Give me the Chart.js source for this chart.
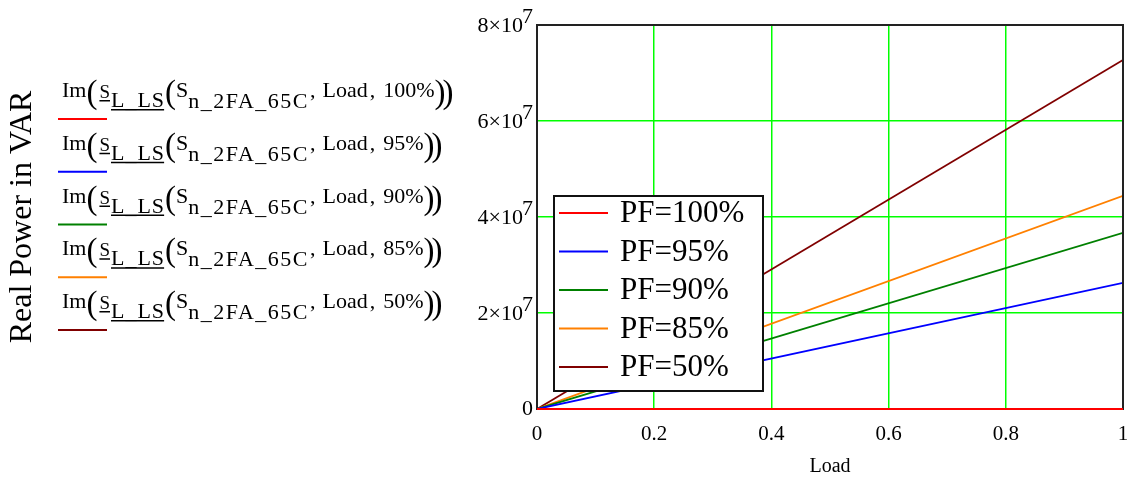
<!DOCTYPE html>
<html>
<head>
<meta charset="utf-8">
<title>Reactive power vs load</title>
<script src="https://cdn.jsdelivr.net/npm/chart.js@4.4.1/dist/chart.umd.min.js"></script>
<style>
  html, body { margin: 0; padding: 0; background: #fff; }
  #wrap { position: relative; width: 1134px; height: 479px; }
</style>
</head>
<body>
<div id="wrap"><canvas id="pf-chart" width="1134" height="479"></canvas></div>
<script>
// load fraction (x) and reactive power per power factor (y, VAR)
const loads = [0, 1];
const q100 = [0, 0];
const q95 = [0, 2.63e7];
const q90 = [0, 3.67e7];
const q85 = [0, 4.44e7];
const q50 = [0, 7.27e7];

const pfLabels = ['PF=100%', 'PF=95%', 'PF=90%', 'PF=85%', 'PF=50%'];
const pfArgs = ['100%', '95%', '90%', '85%', '50%'];
const lineColors = ['#ff0000', '#0000ff', '#008000', '#ff8000', '#800000'];

const xTickLabels = ['0', '0.2', '0.4', '0.6', '0.8', '1'];
const yTickMant = ['0', '2×10', '4×10', '6×10', '8×10'];
const yTickExp = ['', '7', '7', '7', '7'];

const SERIF = '"Liberation Serif", "Times New Roman", serif';

const seriesList = [q100, q95, q90, q85, q50];
const datasets = seriesList.map((vals, i) => ({
  label: pfLabels[i],
  data: loads.map((x, j) => ({ x: x, y: vals[j] })),
  borderColor: lineColors[i],
  borderWidth: 1.8,
  pointRadius: 0,
  fill: false,
}));

// writes a run of text pieces left to right (for subscripts / big parens)
function drawRuns(ctx, x, base, runs) {
  for (const r of runs) {
    ctx.font = r.size + 'px ' + SERIF;
    ctx.letterSpacing = (r.ls || 0) + 'px';
    x += r.pre || 0;
    const w = ctx.measureText(r.t).width;
    const dy = r.dy || 0;
    ctx.fillText(r.t, x, base + dy);
    if (r.u) ctx.fillRect(x, base + dy + 2, w - (r.ls || 0), 1.5);
    x += w;
  }
  ctx.letterSpacing = '0px';
}

const extras = {
  id: 'extras',
  afterDatasetsDraw(chart) {
    const ctx = chart.ctx;
    const a = chart.chartArea;
    ctx.save();

    // legend box inside the plot, lower left
    const bx = a.left + 17, by = a.bottom - 213, bw = 209, bh = 195;
    ctx.fillStyle = '#fff';
    ctx.fillRect(bx, by, bw, bh);
    ctx.strokeStyle = '#111';
    ctx.lineWidth = 2;
    ctx.strokeRect(bx, by, bw, bh);
    ctx.font = '31px ' + SERIF;
    ctx.textBaseline = 'middle';
    chart.data.datasets.forEach((ds, i) => {
      const y = by + 17 + i * 38.5;
      ctx.strokeStyle = ds.borderColor;
      ctx.lineWidth = 1.8;
      ctx.beginPath();
      ctx.moveTo(bx + 5, y);
      ctx.lineTo(bx + 54, y);
      ctx.stroke();
      ctx.fillStyle = '#000';
      ctx.fillText(ds.label, bx + 66, y + 1);
    });

    // frame round the plot area
    ctx.strokeStyle = '#222';
    ctx.lineWidth = 2;
    ctx.strokeRect(a.left, a.top, a.right - a.left, a.bottom - a.top);
    // the zero line sits on top of the frame
    ctx.strokeStyle = lineColors[0];
    ctx.lineWidth = 2;
    ctx.beginPath();
    ctx.moveTo(a.left, chart.scales.y.getPixelForValue(0));
    ctx.lineTo(a.right, chart.scales.y.getPixelForValue(0));
    ctx.stroke();
    ctx.restore();
  },
  afterDraw(chart) {
    const ctx = chart.ctx;
    const ys = chart.scales.y;
    ctx.save();
    ctx.fillStyle = '#000';
    ctx.textBaseline = 'middle';

    // y tick labels with raised exponent
    ys.ticks.forEach((t, i) => {
      const py = ys.getPixelForValue(t.value);
      ctx.font = '22px ' + SERIF;
      const right = ys.right - 4;
      if (yTickExp[i]) {
        ctx.textAlign = 'left';
        const ew = ctx.measureText(yTickExp[i]).width;
        ctx.fillText(yTickExp[i], right - ew, py - 7.5);
        ctx.textAlign = 'right';
        ctx.fillText(yTickMant[i], right - ew + 1, py + 1.5);
      } else {
        ctx.textAlign = 'right';
        ctx.fillText(yTickMant[i], right, py);
      }
    });

    // expression legend on the left
    ctx.textAlign = 'left';
    ctx.textBaseline = 'alphabetic';
    pfArgs.forEach((arg, i) => {
      const base = 97 + i * 52.75;
      drawRuns(ctx, 62, base, [
        { t: 'Im', size: 22 },
        { t: '(', size: 33, dy: 6 },
        { t: 'S', size: 19, dy: 1, u: true, pre: 2 },
        { t: 'L_LS', size: 22, dy: 10, u: true, ls: 1, pre: 1 },
        { t: '(', size: 33, dy: 6 },
        { t: 'S', size: 22 },
        { t: 'n_2FA_65C', size: 22, dy: 11, ls: 1.5 },
        { t: ',', size: 22, pre: 1 },
        { t: 'Load', size: 22, pre: 7 },
        { t: ',', size: 22, pre: 2 },
        { t: arg, size: 22, pre: 8 },
        { t: ')', size: 33, dy: 6 },
        { t: ')', size: 33, dy: 6, pre: -3 },
      ]);
      ctx.fillStyle = lineColors[i];
      ctx.fillRect(58, base + 21, 49, 2);
      ctx.fillStyle = '#000';
    });
    ctx.restore();
  },
};

new Chart(document.getElementById('pf-chart'), {
  type: 'line',
  data: { datasets: datasets },
  options: {
    responsive: false,
    animation: false,
    layout: { padding: { left: 0, top: 25, right: 11, bottom: 0 } },
    plugins: { legend: { display: false }, tooltip: { enabled: false } },
    scales: {
      x: {
        type: 'linear',
        min: 0,
        max: 1,
        ticks: {
          stepSize: 0.2,
          color: '#000',
          padding: 0,
          font: { family: SERIF, size: 21 },
          callback: (v, i) => xTickLabels[i],
        },
        grid: {
          color: '#00ff00',
          lineWidth: 1.5,
          drawTicks: true,
          tickLength: 13,
          tickColor: 'rgba(0,0,0,0)',
        },
        border: { display: false },
        title: {
          display: true,
          text: 'Load',
          color: '#000',
          font: { family: SERIF, size: 20 },
          padding: { top: 2, bottom: 0 },
        },
        afterFit: (s) => { s.height = 70; },
      },
      y: {
        min: 0,
        max: 8e7,
        ticks: { stepSize: 2e7, display: false },
        grid: { color: '#00ff00', lineWidth: 1.5, drawTicks: false },
        border: { display: false },
        title: {
          display: true,
          text: 'Real Power in VAR',
          color: '#000',
          font: { family: SERIF, size: 32 },
          padding: { top: 3, bottom: 0 },
        },
        afterFit: (s) => { s.width = 537; },
      },
    },
  },
  plugins: [extras],
});
</script>
</body>
</html>
